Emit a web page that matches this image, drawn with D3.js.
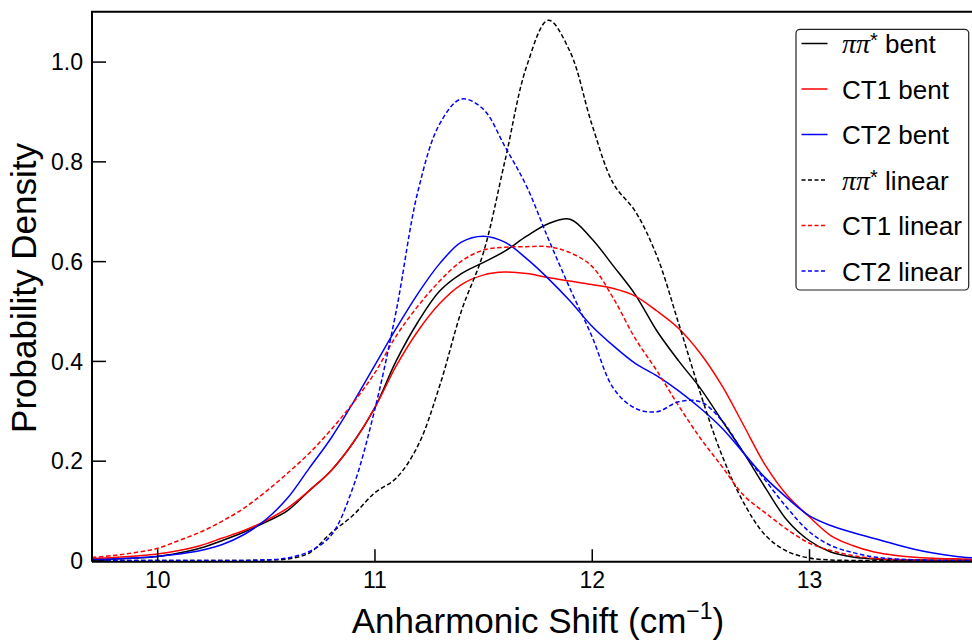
<!DOCTYPE html>
<html><head><meta charset="utf-8">
<script src="https://cdn.jsdelivr.net/npm/d3@7"></script>
<style>
body{margin:0;background:#fff}
svg{display:block}
text{font-family:Arial,"Liberation Sans",Helvetica,sans-serif;fill:#000}
</style>
</head><body>
<svg id="c" width="972" height="643"></svg>
<script>
// Sample positions (Anharmonic shift, cm^-1)
const xs = [9.7,9.8,9.9,10.0,10.1,10.2,10.3,10.4,10.5,10.6,10.7,10.8,10.9,11.0,11.1,11.2,11.3,11.4,11.5,11.6,11.7,11.8,11.9,12.0,12.1,12.2,12.3,12.4,12.5,12.6,12.7,12.8,12.9,13.0,13.1,13.2,13.3,13.4,13.5,13.6,13.7,13.8];

// Probability densities
const ppBent  = [0.002,0.003,0.005,0.008,0.015,0.025,0.040,0.057,0.077,0.100,0.140,0.180,0.235,0.305,0.400,0.478,0.540,0.575,0.597,0.620,0.650,0.675,0.684,0.645,0.590,0.533,0.460,0.400,0.345,0.280,0.215,0.145,0.080,0.040,0.017,0.007,0.003,0.001,0.001,0.000,0.000,0.000];
const ct1Bent = [0.004,0.006,0.009,0.013,0.020,0.030,0.045,0.060,0.080,0.105,0.140,0.180,0.235,0.305,0.390,0.460,0.515,0.553,0.572,0.578,0.575,0.567,0.560,0.553,0.545,0.530,0.500,0.465,0.415,0.350,0.270,0.190,0.130,0.088,0.050,0.030,0.017,0.010,0.006,0.004,0.003,0.002];
const ct2Bent = [0.002,0.003,0.005,0.008,0.013,0.020,0.032,0.052,0.082,0.125,0.185,0.245,0.315,0.390,0.465,0.535,0.595,0.638,0.650,0.638,0.605,0.565,0.520,0.470,0.430,0.395,0.370,0.340,0.305,0.265,0.215,0.165,0.125,0.090,0.070,0.056,0.044,0.032,0.021,0.013,0.007,0.004];
const ppLin   = [0,0,0,0,0,0,0,0,0.001,0.003,0.015,0.055,0.090,0.135,0.165,0.230,0.350,0.500,0.615,0.800,0.990,1.083,1.020,0.875,0.755,0.700,0.610,0.475,0.335,0.210,0.115,0.050,0.018,0.005,0.001,0,0,0,0,0,0,0];
const ct1Lin  = [0.006,0.010,0.016,0.024,0.040,0.057,0.079,0.105,0.138,0.175,0.215,0.262,0.315,0.375,0.450,0.510,0.560,0.600,0.622,0.628,0.629,0.629,0.617,0.590,0.525,0.445,0.380,0.310,0.245,0.188,0.130,0.095,0.062,0.035,0.020,0.010,0.004,0.002,0.001,0.001,0.001,0.001];
const ct2Lin  = [0,0,0,0,0,0,0,0,0.001,0.005,0.018,0.050,0.145,0.300,0.500,0.740,0.875,0.925,0.905,0.830,0.750,0.645,0.545,0.450,0.345,0.305,0.298,0.318,0.318,0.280,0.215,0.160,0.105,0.058,0.030,0.016,0.007,0.003,0.001,0,0,0];

const seriesNames  = ["ππ* bent","CT1 bent","CT2 bent","ππ* linear","CT1 linear","CT2 linear"];
const seriesValues = [ppBent, ct1Bent, ct2Bent, ppLin, ct1Lin, ct2Lin];
const seriesColors = ["#000000","#ff0000","#0000ff","#000000","#ff0000","#0000ff"];
const seriesDashed = [false,false,false,true,true,true];

const xTicks = [10,11,12,13];
const yTicks = [0,0.2,0.4,0.6,0.8,1.0];
const yTickLabels = ["0","0.2","0.4","0.6","0.8","1.0"];

const svg = d3.select("#c");
const L = 92, R = 972, T = 11.7, B = 561.7;
const x = d3.scaleLinear().domain([9.7, 13.75]).range([L, R]);
const y = d3.scaleLinear().domain([-0.0025, 1.1]).range([B, T]);

svg.append("defs").append("clipPath").attr("id","clip")
  .append("rect").attr("x",L).attr("y",T).attr("width",R-L).attr("height",B-T-0.5);

// curves
const line = d3.line().x(d=>x(d[0])).y(d=>y(d[1])).curve(d3.curveCatmullRom.alpha(0.5));
const g = svg.append("g").attr("clip-path","url(#clip)");
seriesValues.forEach((vals,i)=>{
  g.append("path")
    .attr("d", line(xs.map((v,j)=>[v, vals[j]])))
    .attr("fill","none")
    .attr("stroke", seriesColors[i])
    .attr("stroke-width", 1.5)
    .attr("stroke-dasharray", seriesDashed[i] ? "4.5,2.5" : null);
});

// frame
svg.append("path")
  .attr("d", `M${L},${B}H${R+2}M${L},${B}V${T}H${R+2}`)
  .attr("fill","none").attr("stroke","#000").attr("stroke-width",2);

// x axis (ticks inward)
const xAxis = d3.axisBottom(x).tickValues(xTicks).tickSizeInner(-12.5).tickSizeOuter(0).tickPadding(14).tickFormat(d3.format("d"));
const gx = svg.append("g").attr("transform",`translate(0,${B})`).call(xAxis);
gx.select(".domain").remove();
gx.selectAll(".tick line").attr("stroke","#000").attr("stroke-width",1.5);
gx.selectAll(".tick text").attr("font-size",23).attr("font-family","Arial, 'Liberation Sans', sans-serif").attr("y",26.5).attr("dy",0);

// y axis (ticks inward)
const yAxis = d3.axisLeft(y).tickValues(yTicks).tickSizeInner(-14).tickSizeOuter(0).tickPadding(10)
  .tickFormat((d,i)=>yTickLabels[i]);
const gy = svg.append("g").attr("transform",`translate(${L},0)`).call(yAxis);
gy.select(".domain").remove();
gy.selectAll(".tick line").attr("stroke","#000").attr("stroke-width",1.5);
gy.selectAll(".tick text").attr("font-size",23).attr("font-family","Arial, 'Liberation Sans', sans-serif").attr("x",-9).attr("dy","0.36em");

// axis titles
const xt = svg.append("text").attr("x",538).attr("y",633).attr("text-anchor","middle").attr("font-size",35);
xt.append("tspan").text("Anharmonic Shift (cm");
xt.append("tspan").attr("font-size",23).attr("dy",-14).text("−1");
xt.append("tspan").attr("dy",14).text(")");

svg.append("text").attr("transform","translate(36,288) rotate(-90)")
  .attr("text-anchor","middle").attr("font-size",35).text("Probability Density");

// legend
const lg = svg.append("g");
lg.append("rect").attr("x",796).attr("y",29.3).attr("width",172.7).attr("height",260.7)
  .attr("rx",4).attr("fill","#fff").attr("stroke","#222").attr("stroke-width",1.2);
seriesNames.forEach((name,i)=>{
  const yy = 43.5 + i*45.5;
  lg.append("line").attr("x1",801.5).attr("x2",827.5).attr("y1",yy).attr("y2",yy)
    .attr("stroke",seriesColors[i]).attr("stroke-width",1.5)
    .attr("stroke-dasharray", seriesDashed[i] ? "4,2.5" : null);
  const t = lg.append("text").attr("x",842).attr("y",yy+9.5).attr("font-size",26);
  if (name.startsWith("ππ*")) {
    t.append("tspan").attr("font-style","italic").attr("font-family","'Liberation Serif','Times New Roman',serif").attr("font-size",28).text("ππ");
    t.append("tspan").attr("font-size",20).attr("dy",-6).text("*");
    t.append("tspan").attr("dy",6).text(name.slice(3));
  } else {
    t.text(name);
  }
});
</script>
</body></html>
